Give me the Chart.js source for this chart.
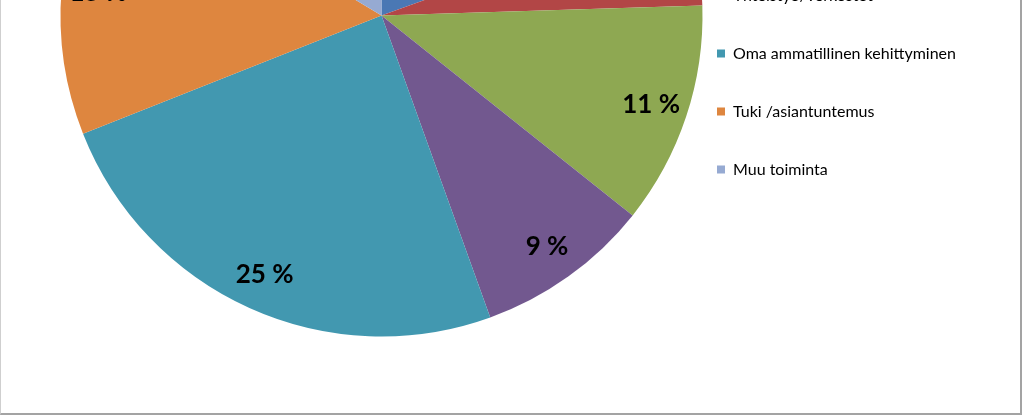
<!DOCTYPE html>
<html>
<head>
<meta charset="utf-8">
<script src="https://cdn.jsdelivr.net/npm/chart.js@4/dist/chart.umd.min.js"></script>
<style>
  html, body { margin: 0; padding: 0; background: #fff; overflow: hidden; }
  #stage { position: relative; width: 1023px; height: 416px; overflow: hidden; }
  /* chart frame, its top edge sits above the visible window */
  #frame {
    position: absolute; left: 0; top: -300px; width: 1022px; height: 715px;
    box-sizing: border-box;
    border: 1px solid #cfcfcf;
    border-right: 2px solid #a3a3a3;
    border-bottom: 2px solid #a3a3a3;
  }
  #wrap { position: absolute; left: 0; top: -300px; width: 1023px; height: 716px; }
</style>
</head>
<body>
<div id="stage">
  <div id="frame"></div>
  <div id="wrap"><canvas id="pie"></canvas></div>
</div>
<script>
// slices, clockwise from 12 o'clock (first three are above the visible crop)
const categories = [
  'Opetus',
  'Hallinto',
  'Tutkimus',
  'Yhteistyö/verkostot',
  'Oma ammatillinen kehittyminen',
  'Tuki /asiantuntemus',
  'Muu toiminta'
];
const shares = [19.5, 5, 11.2, 8.8, 24.5, 14.6, 16.4];
const sliceColors = ['#4A78B4', '#B24646', '#8EA852', '#72588F', '#4298B0', '#DE863F', '#96AAD2'];

// percent labels drawn inside each slice (no datalabels plugin offline)
const percentLabels = {
  id: 'percentLabels',
  afterDatasetsDraw(chart) {
    const ctx = chart.ctx;
    const meta = chart.getDatasetMeta(0);
    const data = chart.data.datasets[0].data;
    const total = data.reduce((a, b) => a + b, 0);
    ctx.save();
    ctx.font = 'bold 26px Lato';
    ctx.fillStyle = '#000';
    ctx.textAlign = 'center';
    ctx.textBaseline = 'middle';
    meta.data.forEach((arc, i) => {
      const p = arc.getProps(['x', 'y', 'startAngle', 'endAngle', 'outerRadius'], true);
      const mid = (p.startAngle + p.endAngle) / 2;
      const r = p.outerRadius * 0.885;
      const pct = Math.round(data[i] / total * 100);
      ctx.fillText(pct + ' %', p.x + Math.cos(mid) * r, p.y + Math.sin(mid) * r);
    });
    ctx.restore();
  }
};

Chart.defaults.font.family = 'Lato';
Chart.defaults.color = '#000';

const pieChart = new Chart(document.getElementById('pie'), {
  type: 'pie',
  data: {
    labels: categories,
    datasets: [{
      data: shares,
      backgroundColor: sliceColors,
      borderWidth: 0,
      radius: 321,
      clip: false
    }]
  },
  options: {
    responsive: true,
    maintainAspectRatio: false,
    animation: false,
    layout: { padding: { left: 88, right: 68, top: 71.5, bottom: 156.5 } },
    plugins: {
      tooltip: { enabled: false },
      legend: {
        position: 'right',
        align: 'start',
        maxWidth: 280,
        labels: {
          boxWidth: 8,
          boxHeight: 8,
          padding: 42,
          font: { size: 16 }
        }
      }
    }
  },
  plugins: [percentLabels]
});
</script>
</body>
</html>
